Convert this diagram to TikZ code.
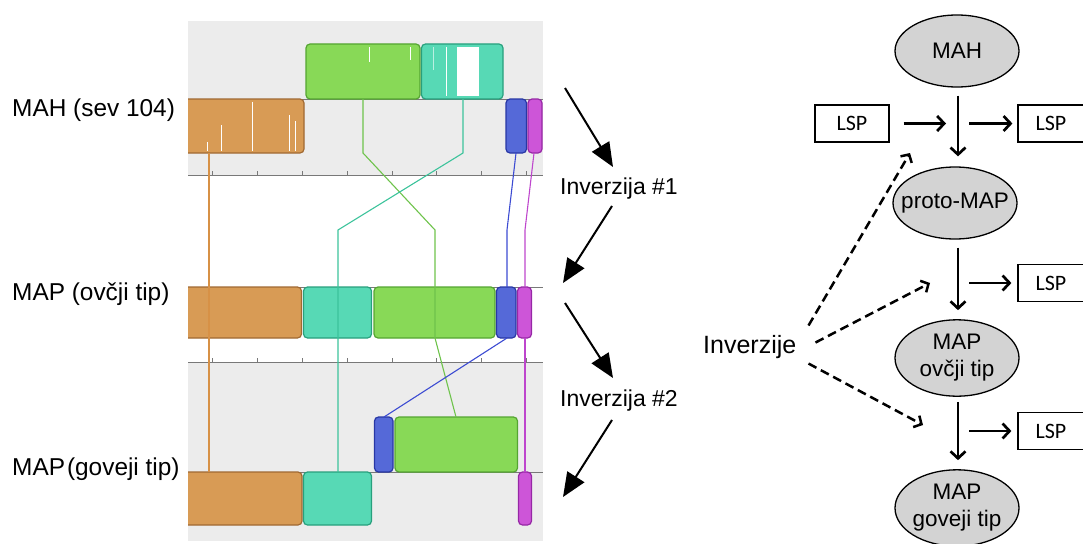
\documentclass[tikz,border=0pt]{standalone}
\usepackage{fontspec}
\setmainfont{Liberation Sans}
\newfontfamily\lspfont{Carlito}
\usetikzlibrary{arrows.meta,shapes.geometric}

% block colours (fill / outline)
\definecolor{bggray}{RGB}{236,236,236}
\definecolor{orfill}{RGB}{216,155,85}
\definecolor{ordraw}{RGB}{160,105,50}
\definecolor{grfill}{RGB}{136,217,87}
\definecolor{grdraw}{RGB}{85,165,50}
\definecolor{tlfill}{RGB}{87,217,181}
\definecolor{tldraw}{RGB}{40,160,125}
\definecolor{blfill}{RGB}{85,105,216}
\definecolor{bldraw}{RGB}{40,55,165}
\definecolor{mgfill}{RGB}{205,85,216}
\definecolor{mgdraw}{RGB}{150,40,165}
% connector colours
\definecolor{orline}{RGB}{215,145,70}
\definecolor{grline}{RGB}{110,195,75}
\definecolor{tlline}{RGB}{60,195,155}
\definecolor{blline}{RGB}{60,75,210}
\definecolor{mgline}{RGB}{190,70,205}
\definecolor{ellgray}{RGB}{211,211,211}
\definecolor{trackgray}{RGB}{120,120,120}

\newcommand\zw[1]{\makebox[0pt]{#1}}
\newcommand\twolines[2]{\makebox[0pt]{\begin{tabular}{@{}c@{}}#1\\#2\end{tabular}}}

\begin{document}
\begin{tikzpicture}[x=1pt,y=-1pt,
  blk/.style={rounded corners=4pt,line width=1.2pt},
  track/.style={draw=trackgray,line width=1pt},
  tick/.style={draw=trackgray,line width=0.6pt},
  link/.style={line width=1.1pt},
  streak/.style={draw=white,line width=0.8pt},
  sidelabel/.style={font=\fontsize{24.4}{29}\selectfont,inner sep=0pt},
  invlabel/.style={font=\fontsize{23}{27}\selectfont,inner sep=0pt},
  bigarrow/.style={line width=2pt,-{Triangle[length=24pt,width=20pt]}},
  ell/.style={ellipse,draw,fill=ellgray,line width=1.3pt,minimum width=124pt,
    minimum height=72pt,inner sep=0pt,font=\fontsize{22.5}{27}\selectfont},
  lspbox/.style={draw,line width=1.2pt,minimum height=37pt,inner sep=0pt,
    font=\lspfont\fontsize{22}{26}\selectfont},
  flow/.style={line width=2.7pt,-{Straight Barb[length=7pt,width=15pt]}},
  dasharrow/.style={line width=2.5pt,dash pattern=on 9pt off 5pt,
    -{Straight Barb[length=6pt,width=13pt]}}
]
\useasboundingbox (0,0) rectangle (1083,543);
\clip (0,0) rectangle (1083,543);

% ---------------- synteny panels ----------------
\fill[bggray] (188,21) rectangle (543,175);
\fill[bggray] (188,362) rectangle (543,541);

\begin{scope}
\clip (188,21) rectangle (543,541);
% genome tracks
\draw[track] (188,99) -- (543,99);
\draw[track] (188,287) -- (543,287);
\draw[track] (188,472) -- (543,472);
% coordinate axes with ticks
\draw[track] (188,175) -- (543,175);
\draw[track] (188,362) -- (543,362);
\foreach \t in {212.7,257.5,302.3,347.1,391.9,436.7,481.5,526.3}{
  \draw[tick] (\t,175) -- (\t,171);
  \draw[tick] (\t,362) -- (\t,358);
}

% MAH (sev 104)
\draw[blk,fill=orfill,draw=ordraw] (180,99) rectangle (304,153);
\draw[blk,fill=grfill,draw=grdraw] (306,44) rectangle (420,99);
\draw[blk,fill=tlfill,draw=tldraw] (421.5,44) rectangle (503,99);
\fill[white] (457,47) rectangle (479,96);
\draw[streak] (446.5,47) -- (446.5,96);
\draw[streak,draw opacity=0.6] (433,47) -- (433,70);
\draw[streak] (369,47) -- (369,62);
\draw[streak] (410,47) -- (410,60);
\draw[streak] (252.5,102) -- (252.5,151);
\draw[streak] (221.5,125) -- (221.5,151);
\draw[streak] (289,115) -- (289,151);
\draw[streak] (295,121) -- (295,151);
\draw[streak] (207,142) -- (207,151);
\draw[blk,fill=blfill,draw=bldraw] (506,99) rectangle (526.5,153);
\draw[blk,fill=mgfill,draw=mgdraw] (528,99) rectangle (542,153);

% MAP (ovcji tip)
\draw[blk,fill=orfill,draw=ordraw] (180,287) rectangle (301.5,338);
\draw[blk,fill=tlfill,draw=tldraw] (303.5,287) rectangle (371.5,338);
\draw[blk,fill=grfill,draw=grdraw] (374,287) rectangle (495,338);
\draw[blk,fill=blfill,draw=bldraw] (496.5,287) rectangle (516,338);
\draw[blk,fill=mgfill,draw=mgdraw] (517.5,287) rectangle (531.5,338);

% MAP (goveji tip)
\draw[blk,fill=blfill,draw=bldraw] (374.5,417) rectangle (393,472);
\draw[blk,fill=grfill,draw=grdraw] (395,417) rectangle (517.5,472);
\draw[blk,fill=orfill,draw=ordraw] (180,472) rectangle (302,525);
\draw[blk,fill=tlfill,draw=tldraw] (303.5,472) rectangle (371.5,525);
\draw[blk,fill=mgfill,draw=mgdraw] (518.5,472) rectangle (531.5,525);

% homologous block links
\draw[link,draw=orline] (209,153) -- (209,472);
\draw[link,draw=grline] (363,99) -- (363,153) -- (435,230) -- (435,338) -- (456,417);
\draw[link,draw=tlline] (463,99) -- (463,153) -- (338,230) -- (338,472);
\draw[link,draw=blline] (516,153) -- (507,230) -- (507,287);
\draw[link,draw=blline] (507,338) -- (384,417);
\draw[link,draw=mgline] (534,153) -- (525,230) -- (525,287);
\draw[link,draw=mgline] (525,338) -- (525,472);
\end{scope}

% track labels
\node[sidelabel,anchor=base west] (lmah) at (12,116) {MAH (sev 104)};
\node[sidelabel,anchor=base west] (lovc) at (12,300) {MAP (ovčji tip)};
\node[sidelabel,anchor=base west] (lgov) at (12,475) {MAP\hspace{2pt}(goveji tip)};

% ---------------- inversion steps ----------------
\node[invlabel,anchor=base] (inv1) at (619,194) {Inverzija \#1};
\node[invlabel,anchor=base] (inv2) at (619,406) {Inverzija \#2};
\coordinate (a1s) at (565,88);
\coordinate (a1e) at (613,167);
\coordinate (a2s) at (612,206);
\coordinate (a2e) at (563,283);
\coordinate (a3s) at (565,303);
\coordinate (a3e) at (613,378);
\coordinate (a4s) at (612,420);
\coordinate (a4e) at (563,497);
\draw[bigarrow] (a1s) -- (a1e);
\draw[bigarrow] (a2s) -- (a2e);
\draw[bigarrow] (a3s) -- (a3e);
\draw[bigarrow] (a4s) -- (a4e);

% ---------------- evolutionary scheme ----------------
\node[ell] (mah) at (957,51) {\zw{MAH}};
\node[ell] (proto) at (955,203) {\zw{proto-MAP}};
\node[ell] (ovc) at (957,358) {\twolines{MAP}{ovčji tip}};
\node[ell] (gov) at (957,508) {\twolines{MAP}{goveji tip}};

\node[lspbox,minimum width=74pt] (lspin) at (852,123.5) {LSP};
\node[lspbox,minimum width=66pt] (lsp1) at (1051,123.5) {LSP};
\node[lspbox,minimum width=66pt] (lsp2) at (1051,283) {LSP};
\node[lspbox,minimum width=66pt] (lsp3) at (1051,431) {LSP};

\coordinate (j1) at (958,123.5);
\coordinate (j2) at (958,283);
\coordinate (j3) at (958,431);

\draw[flow] ([xshift=1pt,yshift=-8pt]mah.south) -- ([xshift=3pt,yshift=10pt]proto.north);
\draw[flow] ([xshift=3pt,yshift=-8pt]proto.south) -- ([xshift=1pt,yshift=9pt]ovc.north);
\draw[flow] ([xshift=1pt,yshift=-5pt]ovc.south) -- ([xshift=1pt,yshift=9pt]gov.north);

\draw[flow,shorten <=14pt,shorten >=12pt] (lspin.east) -- (j1);
\draw[flow,shorten <=11pt,shorten >=5pt] (j1) -- (lsp1.west);
\draw[flow,shorten <=11pt,shorten >=6pt] (j2) -- (lsp2.west);
\draw[flow,shorten <=11pt,shorten >=6pt] (j3) -- (lsp3.west);

\node[font=\fontsize{25}{30}\selectfont,inner sep=0pt,anchor=base west] (inv) at (703,353) {Inverzije};
\coordinate (d1) at (910,153);
\coordinate (d2) at (930,283);
\coordinate (d3) at (923,425);
\draw[dasharrow] ([xshift=12pt,yshift=21pt]inv.east) -- (d1);
\draw[dasharrow] ([xshift=19pt,yshift=4pt]inv.east) -- (d2);
\draw[dasharrow] ([xshift=12pt,yshift=-17pt]inv.east) -- (d3);
\end{tikzpicture}
\end{document}
